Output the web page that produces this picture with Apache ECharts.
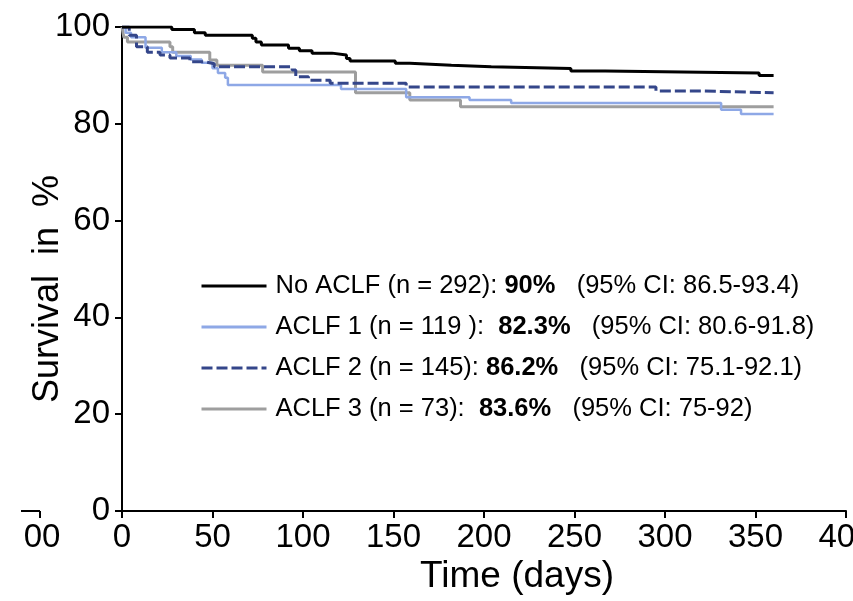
<!DOCTYPE html>
<html>
<head>
<meta charset="utf-8">
<script src="https://cdn.jsdelivr.net/npm/echarts@6/dist/echarts.min.js"></script>
<style>
  html, body { margin: 0; padding: 0; background: #fff; }
  #km-graph { width: 853px; height: 601px; }
</style>
</head>
<body>
<div id="km-graph"></div>
<script>
  // Kaplan-Meier steps: [day, survival %]
  var noAclf = [[0,100],[27.5,99.5],[40,98.8],[46,98.3],[72,97.7],[74,96.9],[77,96.3],[92,95.6],[98,95.1],[105,94.6],[116,94.2],[124,93.5],[126,93.0],[151,92.5],[159,92.1],[182,91.8],[204,91.4],[248,90.9],[267,90.5],[352,90.0],[360,90.0]]
  var aclf1 = [[0,100],[2,98.8],[5,97.9],[13,95.7],[22,94.8],[30,94.0],[38,93.3],[44,92.6],[50,91.5],[53,90.5],[57,89.5],[58.5,88.0],[121,87.2],[157,85.5],[192,84.9],[215,84.3],[331,82.9],[342,82.0],[360,82.0]]
  var aclf2 = [[0,100],[4,98.3],[8,95.9],[14,94.8],[21,94.2],[26.5,93.6],[37.5,92.8],[46,92.4],[51,91.8],[94,91.1],[96,89.7],[103,89.0],[115,88.4],[157,87.6],[295,86.8],[320,86.4],[360,86.4]]
  var aclf3 = [[0,100],[1,97.9],[3,96.9],[26.5,95.9],[28,94.8],[48.5,93.2],[52.4,92.1],[77.7,90.7],[129,86.4],[159,84.9],[187,83.5],[360,83.5]]

  var seriesNames = ['No ACLF', 'ACLF 1', 'ACLF 2', 'ACLF 3']
  var legendLabels = {
    'No ACLF': ['No ACLF (n = 292): ', '90%', '   (95% CI: 86.5-93.4)'],
    'ACLF 1': ['ACLF 1 (n = 119 ):  ', '82.3%', '   (95% CI: 80.6-91.8)'],
    'ACLF 2': ['ACLF 2 (n = 145): ', '86.2%', '   (95% CI: 75.1-92.1)'],
    'ACLF 3': ['ACLF 3 (n = 73):  ', '83.6%', '   (95% CI: 75-92)']
  }

  var font = 'Liberation Sans, Arial, sans-serif'
  var myChart = echarts.init(document.getElementById('km-graph'))

  myChart.setOption({
    animation: false,
    backgroundColor: '#fff',
    grid: { left: 122, right: 7, top: 27, bottom: 90, containLabel: false, outerBoundsMode: 'none' },
    legend: {
      data: seriesNames,
      orient: 'vertical',
      left: 195,
      top: 266,
      itemWidth: 65,
      itemHeight: 14,
      itemGap: 11,
      itemStyle: { opacity: 0 },
      lineStyle: { width: 3 },
      formatter: function (name) {
        var t = legendLabels[name]
        return t[0] + '{b|' + t[1] + '}' + t[2]
      },
      textStyle: {
        color: '#000',
        fontFamily: font,
        fontSize: 25.5,
        lineHeight: 30,
        padding: [0, 0, 0, 4],
        rich: {
          b: { fontWeight: 'bold', fontFamily: font, fontSize: 25.5, lineHeight: 30, color: '#000' }
        }
      }
    },
    xAxis: {
      type: 'value',
      min: 0,
      max: 400,
      interval: 50,
      name: 'Time (days)',
      nameLocation: 'middle',
      nameGap: 47,
      nameMoveOverlap: false,
      nameTextStyle: { color: '#000', fontFamily: font, fontSize: 37, padding: [0, 0, 0, 66] },
      axisLine: { lineStyle: { color: '#000', width: 2 } },
      axisTick: { length: 7, lineStyle: { color: '#000', width: 2 } },
      axisLabel: { color: '#000', fontFamily: font, fontSize: 33, margin: 10 },
      splitLine: { show: false }
    },
    yAxis: {
      type: 'value',
      min: 0,
      max: 100,
      interval: 20,
      name: 'Survival  in  %',
      nameLocation: 'middle',
      nameGap: 56,
      nameMoveOverlap: false,
      nameTextStyle: { color: '#000', fontFamily: font, fontSize: 36, padding: [0, 40, 0, 0] },
      axisLine: { show: true, lineStyle: { color: '#000', width: 2 } },
      axisTick: { show: true, length: 7, lineStyle: { color: '#000', width: 2 } },
      axisLabel: { color: '#000', fontFamily: font, fontSize: 33, margin: 12 },
      splitLine: { show: false }
    },
    series: [{
      name: 'ACLF 3',
      type: 'line',
      step: 'end',
      symbol: 'none',
      data: aclf3,
      lineStyle: { color: '#9e9e9e', width: 3 },
      itemStyle: { color: '#9e9e9e' }
    }, {
      name: 'ACLF 1',
      type: 'line',
      step: 'end',
      symbol: 'none',
      data: aclf1,
      lineStyle: { color: '#8ea8e6', width: 2.5 },
      itemStyle: { color: '#8ea8e6' }
    }, {
      name: 'ACLF 2',
      type: 'line',
      step: 'end',
      symbol: 'none',
      data: aclf2,
      lineStyle: { color: '#34468a', width: 3, type: [11, 4] },
      itemStyle: { color: '#34468a' }
    }, {
      name: 'No ACLF',
      type: 'line',
      step: 'end',
      symbol: 'none',
      data: noAclf,
      lineStyle: { color: '#000', width: 3 },
      itemStyle: { color: '#000' }
    }],
    // edge of the neighbouring panel that the crop cut through
    graphic: [
      { type: 'line', shape: { x1: 21, y1: 511, x2: 40, y2: 511 }, style: { stroke: '#000', lineWidth: 2 } },
      { type: 'line', shape: { x1: 40, y1: 511, x2: 40, y2: 518 }, style: { stroke: '#000', lineWidth: 2 } },
      { type: 'text', x: 42, y: 538, style: { text: '00', fill: '#000', font: '33px Liberation Sans', textAlign: 'center', textVerticalAlign: 'middle' } }
    ]
  })
</script>
</body>
</html>
